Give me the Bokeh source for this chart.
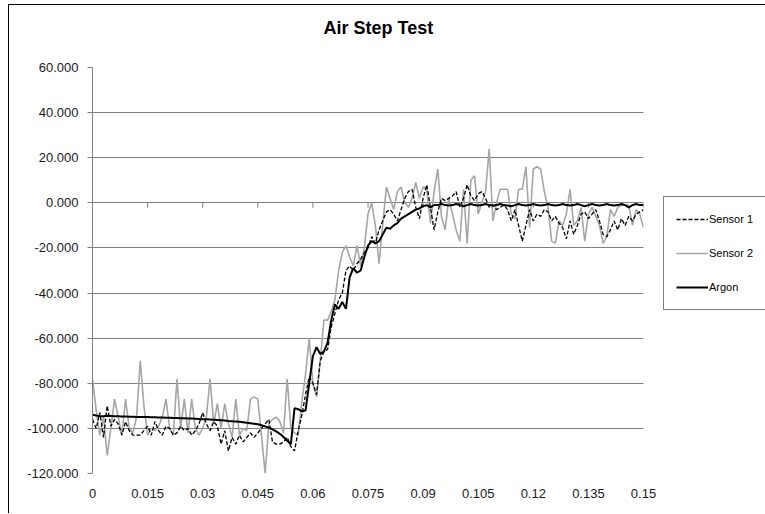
from bokeh.plotting import figure
from bokeh.models import Range1d, FixedTicker, Legend, LegendItem, NumeralTickFormatter, ColumnDataSource, Title
from bokeh.embed import file_html
from bokeh.resources import INLINE

# ---- data (x step 0.001 s) ----
time = [round(i * 0.001, 3) for i in range(151)]

sensor1 = [
    -96, -100, -93, -104, -90, -99, -96, -98, -103, -97,
    -101, -103, -103, -103, -101, -99, -103, -97, -101, -103,
    -99, -100, -103, -102, -99, -101, -100, -103, -101, -98,
    -93, -98, -101, -97, -99, -107, -101, -110, -104, -107,
    -103, -106, -104, -102, -104, -102, -100, -98, -96, -106,
    -107, -107, -106, -104, -108, -110, -101, -94, -85, -77,
    -80, -85, -70, -66, -65, -55, -49, -43, -40, -30,
    -28, -30, -27, -25, -22, -20, -15, -18, -12, -8,
    -4, -3, -5, -8, -3, 2, 5, 6, -2, -7,
    2, 8, -2, -12, -4, 2, 1, 2, 3, 5,
    -2, 2, 8, 3, 1, 4, 5, 2, -2, -1,
    -3, -2, -1, -3, -8, -3, -10, -17, -10, -3,
    -8, -5, -6, -3, -4, -8, -6, -9, -11, -16,
    -8, -14, -10, -5, -4, -7, -5, -3, -8, -14,
    -15, -12, -8, -12, -7, -10, -6, -8, -5, -4,
    -3,
]

sensor2 = [
    -78, -92, -103, -95, -112, -100, -87, -95, -103, -87,
    -100, -102, -95, -70, -90, -103, -100, -101, -99, -95,
    -87, -100, -103, -78, -100, -87, -102, -87, -100, -103,
    -100, -95, -78, -98, -89, -100, -89, -98, -104, -87,
    -103, -100, -101, -87, -86, -87, -103, -120, -98, -96,
    -95, -97, -102, -78, -100, -102, -103, -88, -76, -60,
    -80, -86, -70, -52, -52, -48, -43, -30, -22, -19,
    -24, -28, -19, -28, -20, -5, 0, -10, -27, -10,
    7, 2, -3, 5, 7, 0, -2, 2, 9, 2,
    7, 6, -9, 5, 15, -6, -12, 2, -5, -12,
    -17, 6, -18, 10, 12, -5, 0, 5, 24, -8,
    0, 6, 6, 6, -5, -7, 6, 6, 16, -11,
    15, 16, 15, 5, -2, -17, -18, -8, -10, -5,
    6, -10, -8, -2, -17, -5, -2, -6, -10, -18,
    -15, -3, -6, -2, -1, -1, -1, -10, -3, -5,
    -11,
]

argon = [
    -94.0, -94.3, -94.5, -94.6, -94.4, -94.5, -94.6, -94.6, -94.7, -94.7,
    -94.8, -94.8, -94.9, -94.9, -95.0, -95.0, -95.1, -95.1, -95.2, -95.2,
    -95.3, -95.3, -95.4, -95.4, -95.5, -95.5, -95.6, -95.6, -95.7, -95.8,
    -95.9, -96.0, -96.1, -96.2, -96.3, -96.4, -96.5, -96.7, -96.8, -97.0,
    -97.1, -97.3, -97.5, -97.7, -97.9, -98.2, -98.6, -99.1, -99.7, -100.4,
    -101.3, -102.4, -103.8, -105.5, -107.0, -91.0, -91.5, -92.5, -92.0, -80.0,
    -68.0, -64.0, -67.0, -66.0, -62.0, -52.0, -45.0, -47.0, -44.0, -47.0,
    -33.0, -29.0, -31.0, -30.0, -24.0, -19.0, -17.0, -18.0, -17.0, -14.0,
    -11.0, -11.5, -10.0, -9.0, -7.0, -6.0, -5.0, -4.0, -3.0, -2.5,
    -1.5, -1.0, -2.0, -1.0, -1.0, -0.5, -1.0, -1.2, -1.0, -0.5,
    -1.0, -1.5, -1.0, -0.5, -1.0, -1.2, -1.0, -0.5, -1.0, -1.2,
    -1.0, -0.5, -1.0, -1.2, -1.5, -1.0, -0.5, -1.0, -1.2, -1.0,
    -0.5, -1.0, -1.2, -1.0, -0.5, -1.0, -1.2, -1.0, -0.5, -1.0,
    -1.2, -1.0, -0.5, -1.0, -1.5, -1.0, -0.5, -1.0, -1.2, -1.0,
    -0.5, -1.0, -1.2, -1.0, -0.5, -1.0, -2.0, -1.0, -0.5, -1.0,
    -1.0,
]

x_ticks = [0, 0.015, 0.03, 0.045, 0.06, 0.075, 0.09, 0.105, 0.12, 0.135, 0.15]
x_tick_labels = ["0", "0.015", "0.03", "0.045", "0.06", "0.075", "0.09", "0.105", "0.12", "0.135", "0.15"]
y_ticks = [-120, -100, -80, -60, -40, -20, 0, 20, 40, 60]

FONT = "Liberation Sans"
GRID = "#808080"

p = figure(
    frame_width=551, frame_height=406,
    min_border_left=83, min_border_right=121, min_border_top=62, min_border_bottom=40,
    x_range=Range1d(0, 0.15), y_range=Range1d(-120, 60),
    output_backend="svg", toolbar_location=None,
    styles={"margin-left": "8px", "margin-top": "4px",
            "border-top": "1px solid #000000", "border-left": "1px solid #000000"},
)
p.background_fill_color = "white"
p.border_fill_color = "white"
p.outline_line_color = None

# spacer between the frame and the chart title
p.add_layout(Title(text=" ", text_font_size="2px", standoff=12), "above")
p.add_layout(Title(text="Air Step Test", align="left", vertical_align="top", offset=231,
                   standoff=24, text_font=FONT, text_font_size="18px",
                   text_font_style="bold", text_color="#000000"), "above")

# x axis (labels only at the bottom)
xa = p.xaxis[0]
xa.ticker = FixedTicker(ticks=x_ticks)
xa.major_label_overrides = {t: l for t, l in zip(x_ticks, x_tick_labels)}
xa.axis_line_color = None
xa.major_tick_line_color = None
xa.minor_tick_line_color = None
xa.major_label_standoff = 9
xa.major_label_text_font = FONT
xa.major_label_text_font_size = "13px"
xa.major_label_text_color = "#1a1a1a"

ya = p.yaxis[0]
ya.ticker = FixedTicker(ticks=y_ticks)
ya.formatter = NumeralTickFormatter(format="0.000")
ya.axis_line_color = GRID
ya.major_tick_line_color = GRID
ya.major_tick_in = 0
ya.major_tick_out = 5
ya.minor_tick_line_color = None
ya.major_label_standoff = 9
ya.major_label_text_font = FONT
ya.major_label_text_font_size = "13px"
ya.major_label_text_color = "#1a1a1a"

p.xgrid.grid_line_color = None
p.ygrid.ticker = FixedTicker(ticks=y_ticks)
p.ygrid.grid_line_color = GRID
p.ygrid.grid_line_width = 1

# category-axis tick marks on the zero line
p.segment(x0=x_ticks, y0=[0] * len(x_ticks), x1=x_ticks, y1=[-2.2] * len(x_ticks),
          line_color=GRID, line_width=1)

src = ColumnDataSource(dict(t=time, s1=sensor1, s2=sensor2, ar=argon))
r2 = p.line("t", "s2", source=src, line_color="#a6a6a6", line_width=1.6)
r1 = p.line("t", "s1", source=src, line_color="#000000", line_width=1.3, line_dash="4 2")
r3 = p.line("t", "ar", source=src, line_color="#000000", line_width=2)

legend = Legend(
    items=[LegendItem(label="Sensor 1", renderers=[r1]),
           LegendItem(label="Sensor 2", renderers=[r2]),
           LegendItem(label="Argon", renderers=[r3])],
    location=(20, 163),
    margin=0, padding=12, spacing=14,
    glyph_width=32, glyph_height=20, label_height=20, label_standoff=1,
    label_text_font=FONT, label_text_font_size="11px", label_text_color="#000000",
    border_line_color="#000000", border_line_width=1,
    background_fill_color="white",
)
p.add_layout(legend, "right")

open("out.html", "w").write(file_html(p, INLINE))
